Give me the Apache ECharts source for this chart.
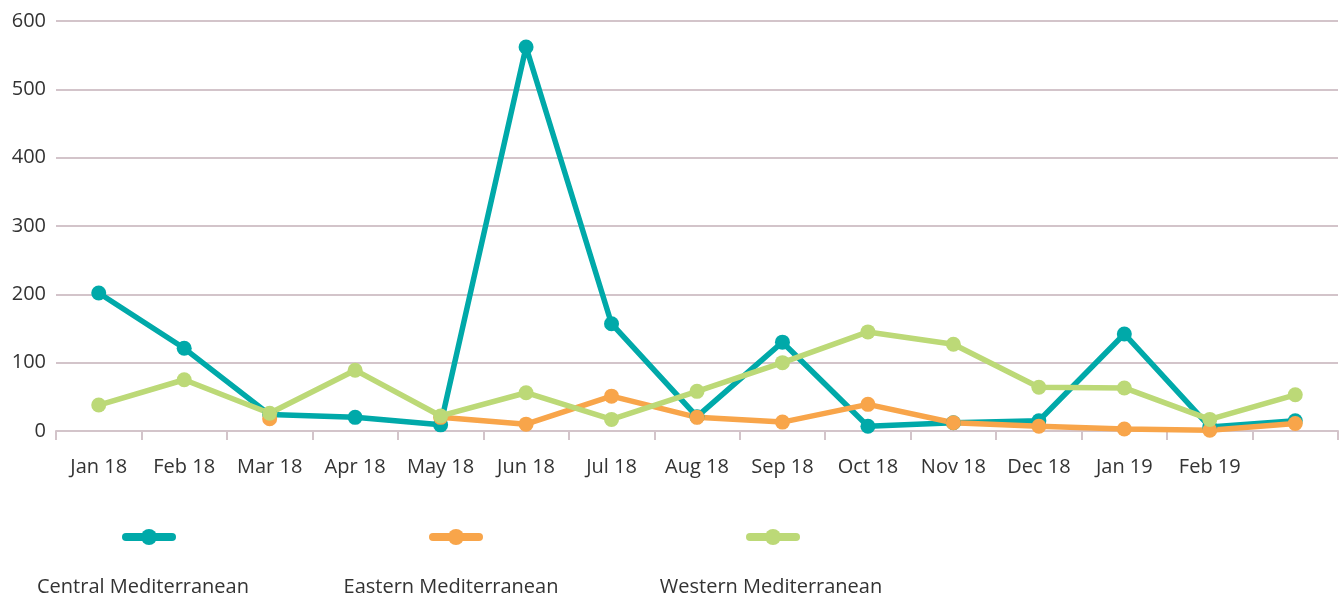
<!DOCTYPE html>
<html><head><meta charset="utf-8">
<script src="https://cdn.jsdelivr.net/npm/echarts@6/dist/echarts.min.js"></script>
<style>html,body{margin:0;padding:0;background:#fff}#c{width:1340px;height:598px}</style>
</head><body><div id="c"></div>
<script>
const categories = ['Jan 18','Feb 18','Mar 18','Apr 18','May 18','Jun 18','Jul 18','Aug 18','Sep 18','Oct 18','Nov 18','Dec 18','Jan 19','Feb 19',''];
const seriesNames = ['Central Mediterranean','Eastern Mediterranean','Western Mediterranean'];
const central = [202,121,24,20,9,562,157,21,130,7,12,15,142,6,15];
const eastern = [null,null,18,null,20,10,51,20,13,39,12,7,3,1,11];
const western = [38,75,26,89,22,56,17,58,100,145,127,64,63,17,53];
const yTicks = {min:0,max:600,interval:100};
const colors = ['#00A9A9','#F8A54A','#BCD977'];

const FONT = 'Open Sans';
const chart = echarts.init(document.getElementById('c'));
const legendCenters = [145, 452, 769];
const textCenters = [143, 451, 771];
const lineSeries = (name, data, color) => ({
  name, type:'line', data, connectNulls:false,
  symbol:'circle', symbolSize:15, showSymbol:true,
  lineStyle:{width:5.5, color}, itemStyle:{color},
  emphasis:{disabled:true}
});
chart.setOption({
  animation:false,
  color: colors,
  textStyle:{fontFamily:FONT},
  grid:{left:56,right:2,top:21,bottom:167},
  xAxis:{type:'category', data:categories, boundaryGap:true,
    axisLine:{lineStyle:{color:'#d3c4ca',width:2}},
    axisTick:{show:true,interval:0,length:9,lineStyle:{color:'#d3c4ca',width:2}},
    axisLabel:{color:'#333',fontSize:20,margin:26,interval:0,hideOverlap:false,fontFamily:FONT}},
  yAxis:{type:'value', min:yTicks.min, max:yTicks.max, interval:yTicks.interval,
    axisLine:{show:false}, axisTick:{show:false},
    splitLine:{lineStyle:{color:'#d3c4ca',width:2}},
    axisLabel:{color:'#333',fontSize:20,margin:10,fontFamily:FONT}},
  legend: seriesNames.map((n,i)=>({
    data:[n], top:527, left:legendCenters[i]-23, itemWidth:46, itemHeight:20,
    formatter:()=>'', selectedMode:false, itemGap:0, padding:0,
    lineStyle:{width:8, cap:'round'}
  })),
  graphic: seriesNames.map((n,i)=>({
    type:'text', x:textCenters[i], y:587,
    style:{text:n, fill:'#333', font:'20px '+FONT, align:'center', verticalAlign:'middle'}
  })),
  series:[
    lineSeries(seriesNames[0], central, colors[0]),
    lineSeries(seriesNames[1], eastern, colors[1]),
    lineSeries(seriesNames[2], western, colors[2])
  ]
});
</script></body></html>
